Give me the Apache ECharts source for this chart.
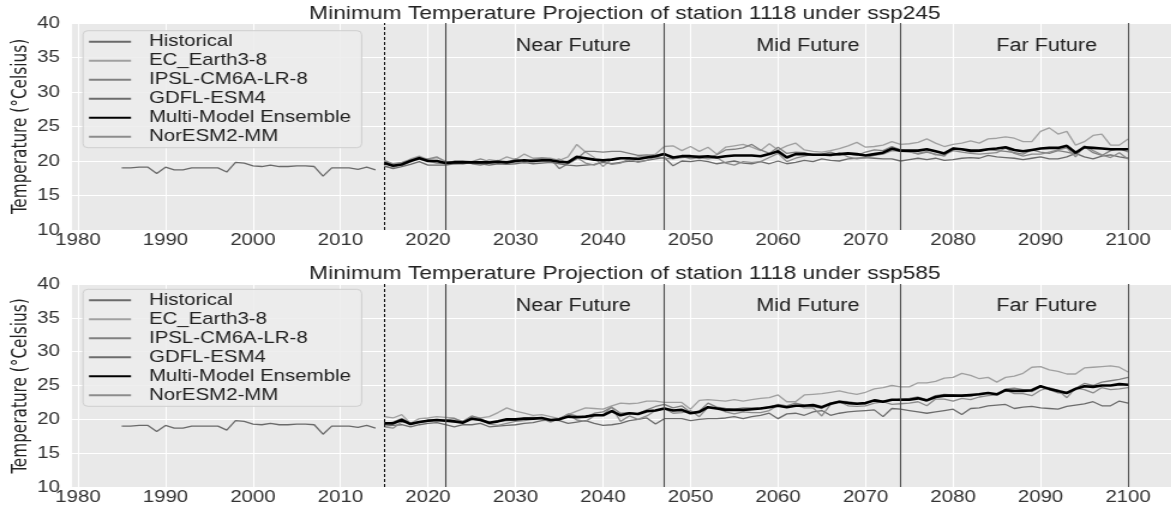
<!DOCTYPE html>
<html>
<head>
<meta charset="utf-8">
<script src="https://cdn.jsdelivr.net/npm/echarts@6.0.0/dist/echarts.min.js"></script>
<style>
  html, body { margin: 0; padding: 0; background: #fff; overflow: hidden; width: 1171px; height: 506px; }
  /* the figure is drawn narrower and widened horizontally */
  #chart { width: 982px; height: 506px; transform: scaleX(1.2); transform-origin: 0 0; }
</style>
</head>
<body>
<div id="chart"></div>
<script>
// ---- data ----
const histStart = 1985;
const projStart = 2015;

const historical = [
  19.0, 19.0, 19.1, 19.1, 18.2, 19.1, 18.7, 18.7, 19.0, 19.0,
  19.0, 19.0, 18.4, 19.8, 19.7, 19.3, 19.2, 19.4, 19.2, 19.2,
  19.3, 19.3, 19.2, 17.8, 19.0, 19.0, 19.0, 18.8, 19.1, 18.7
];

// ssp245, 2015-2100
const ec245 = [
  19.2, 19.0, 19.6, 20.3, 20.7, 20.2, 20.5, 20.0, 19.6, 19.5,
  19.9, 19.7, 20.2, 20.0, 20.6, 20.2, 21.0, 20.4, 20.5, 20.4,
  20.1, 20.6, 22.4, 21.3, 20.5, 19.2, 20.3, 20.5, 20.2, 20.6,
  20.7, 21.0, 22.1, 22.2, 21.5, 22.1, 21.4, 22.0, 21.0, 22.0,
  22.2, 22.4, 22.0, 21.5, 22.5, 21.6, 22.2, 22.6, 21.6, 21.4,
  21.3, 21.5, 21.8, 22.2, 22.7, 22.0, 22.1, 22.3, 22.8, 22.4,
  22.5, 22.7, 23.2, 22.6, 22.1, 22.4, 22.6, 22.9, 22.6, 23.2,
  23.3, 23.5, 23.3, 22.8, 22.8, 24.3, 24.8, 23.9, 24.3, 22.3,
  22.8, 23.7, 23.9, 22.3, 22.3, 23.2
];
const ipsl245 = [
  19.9, 19.6, 19.5, 20.1, 20.6, 20.0, 19.7, 19.6, 20.0, 20.0,
  19.6, 19.4, 19.7, 19.8, 19.7, 20.3, 19.9, 20.2, 20.4, 20.3,
  18.9, 19.6, 20.3, 21.4, 21.4, 21.3, 21.4, 21.4, 21.1, 20.8,
  20.9, 20.8, 21.1, 20.3, 20.5, 20.6, 20.4, 20.5, 20.9, 21.6,
  21.7, 21.9, 22.4, 21.6, 21.1, 22.0, 21.1, 21.3, 21.2, 20.9,
  21.0, 21.3, 20.9, 21.0, 20.8, 21.3, 21.6, 21.5, 22.1, 21.6,
  21.4, 21.0, 21.3, 21.0, 20.7, 21.9, 21.7, 21.3, 21.4, 21.7,
  21.5, 21.4, 21.2, 21.0, 21.6, 21.3, 21.1, 21.5, 21.3, 21.0,
  22.1, 21.2, 20.8, 21.5, 21.8, 21.3
];
const gdfl245 = [
  19.3, 18.9, 19.2, 19.5, 19.9, 19.4, 19.4, 19.4, 19.6, 19.7,
  19.8, 19.6, 19.4, 19.6, 19.5, 19.6, 19.8, 19.6, 19.7, 19.8,
  19.6, 19.4, 19.3, 19.4, 19.5, 19.8, 19.6, 19.8, 20.0, 19.9,
  20.1, 20.3, 20.5, 19.3, 20.0, 19.9, 20.1, 19.9, 19.6, 19.8,
  20.0, 19.7, 19.6, 19.9, 19.6, 20.0, 19.6, 19.8, 20.1, 19.9,
  20.3, 20.1, 20.0, 20.3, 20.4, 20.5, 20.4, 20.3, 20.3, 20.0,
  20.2, 20.4, 20.2, 20.4, 20.1, 20.2, 20.4, 20.5, 20.4, 20.8,
  20.6, 20.5, 20.4, 20.2, 20.4, 20.6, 20.3, 20.3, 20.6, 21.1,
  20.6, 20.3, 20.7, 20.9, 20.6, 20.4
];
const mme245 = [
  19.7, 19.3, 19.5, 20.0, 20.4, 20.0, 20.0, 19.7, 19.8, 19.8,
  19.8, 19.8, 19.8, 19.9, 19.8, 20.0, 20.1, 20.0, 20.1, 20.1,
  19.9, 19.8, 20.6, 20.4, 20.2, 20.1, 20.2, 20.4, 20.4, 20.3,
  20.5, 20.7, 21.0, 20.5, 20.7, 20.7, 20.6, 20.7, 20.5, 20.7,
  20.8, 20.8, 20.8, 20.7, 21.0, 21.4, 20.5, 21.0, 21.0, 20.9,
  20.9, 20.9, 21.0, 21.1, 21.0, 20.8, 21.0, 21.2, 21.8, 21.5,
  21.5, 21.5, 21.7, 21.4, 21.1, 21.8, 21.7, 21.5, 21.5, 21.7,
  21.8, 22.0, 21.6, 21.4, 21.6, 21.8, 21.9, 21.9, 22.2, 21.2,
  22.0, 21.9, 21.8, 21.7, 21.7, 21.7
];
const nor245 = [
  20.1, 19.6, 19.8, 20.2, 20.4, 20.3, 20.6, 19.9, 19.9, 20.0,
  19.9, 20.3, 19.9, 20.1, 19.6, 19.9, 19.7, 19.9, 19.9, 19.9,
  20.3, 19.6, 20.5, 19.7, 19.4, 20.0, 19.5, 19.7, 20.3, 19.8,
  20.1, 20.6, 20.4, 20.3, 20.7, 20.3, 20.5, 20.3, 20.5, 19.7,
  19.4, 19.9, 19.8, 19.9, 20.5, 21.1, 19.9, 20.4, 20.7, 21.0,
  20.9, 20.7, 21.2, 20.6, 20.3, 20.5, 20.8, 21.0, 21.5, 21.4,
  21.3, 21.1, 21.4, 20.9, 20.9, 21.5, 21.3, 21.1, 21.0, 21.1,
  21.2, 21.9, 21.1, 20.7, 21.0, 21.0, 21.3, 21.6, 21.9, 20.6,
  22.2, 21.5, 20.9, 20.5, 21.2, 20.3
];

// ssp585, 2015-2100
const ec585 = [
  20.4, 20.2, 20.7, 19.4, 20.1, 20.2, 20.4, 20.3, 20.2, 19.4,
  20.4, 20.2, 20.4, 21.0, 21.7, 21.2, 20.9, 20.6, 20.7, 20.4,
  20.1, 20.7, 21.2, 21.7, 21.6, 21.5, 22.0, 22.4, 22.3, 22.4,
  22.7, 22.7, 22.5, 22.5, 22.5, 21.5, 22.8, 22.9, 22.8, 22.7,
  22.9, 22.7, 22.9, 23.1, 23.2, 23.6, 22.6, 22.6, 23.6, 23.7,
  23.8, 24.0, 24.2, 23.9, 23.7, 24.0, 24.5, 24.7, 25.0, 24.8,
  24.8, 25.4, 25.4, 25.6, 26.1, 26.2, 26.8, 26.5, 26.0, 26.2,
  25.5, 26.2, 26.4, 26.8, 27.7, 27.8, 27.3, 27.1, 26.7, 26.7,
  27.6, 27.7, 27.8, 27.9, 27.7, 27.0
];
const ipsl585 = [
  19.3, 19.6, 20.1, 19.4, 19.6, 19.9, 19.9, 19.9, 20.1, 19.7,
  20.5, 20.1, 19.4, 19.7, 19.8, 19.9, 20.2, 20.3, 20.2, 19.7,
  20.0, 20.8, 20.5, 20.3, 20.9, 21.1, 21.8, 20.9, 21.0, 20.8,
  21.4, 21.9, 22.2, 21.7, 22.0, 21.0, 21.2, 22.4, 21.8, 21.6,
  21.5, 21.7, 21.7, 21.7, 21.8, 22.2, 22.0, 22.4, 22.1, 21.9,
  21.6, 22.4, 22.7, 22.6, 22.4, 22.3, 22.9, 22.7, 22.8, 23.0,
  23.1, 23.3, 22.9, 23.5, 23.7, 23.6, 23.4, 23.4, 23.8, 23.9,
  23.6, 24.5, 24.6, 24.4, 24.1, 24.8, 24.4, 23.9, 23.8, 24.6,
  25.3, 25.0, 25.5, 25.7, 25.9, 26.2
];
const gdfl585 = [
  19.0, 19.1, 19.2, 18.9, 19.2, 19.4, 19.5, 19.2, 18.9, 19.2,
  19.2, 19.4, 18.9, 19.0, 19.1, 19.2, 19.4, 19.5, 19.8, 19.9,
  19.8, 19.4, 19.6, 19.8, 19.4, 19.1, 19.2, 19.4, 19.8, 20.0,
  20.2, 19.3, 20.1, 20.1, 20.1, 19.8, 20.0, 20.1, 20.1, 20.2,
  20.4, 20.1, 20.4, 20.6, 20.9, 20.1, 20.8, 20.9, 20.6, 21.1,
  21.3, 20.6, 20.9, 21.1, 21.2, 21.3, 21.4, 20.4, 21.6, 21.5,
  21.3, 21.1, 20.9, 21.1, 21.3, 21.5, 20.7, 21.6, 21.7, 22.0,
  22.1, 22.2, 21.6, 21.8, 21.9, 21.7, 21.6, 21.5, 21.9, 22.1,
  22.3, 22.6, 22.0, 22.0, 22.7, 22.4
];
const mme585 = [
  19.4, 19.4, 19.9, 19.3, 19.6, 19.8, 19.9, 19.8, 19.7, 19.5,
  20.1, 19.9, 19.5, 19.7, 20.0, 20.0, 20.1, 20.1, 20.2, 19.9,
  20.0, 20.4, 20.3, 20.4, 20.6, 20.6, 21.2, 20.6, 20.9, 20.8,
  21.2, 21.3, 21.6, 21.3, 21.4, 20.9, 21.1, 21.8, 21.6, 21.4,
  21.4, 21.4, 21.5, 21.6, 21.8, 22.0, 21.8, 22.0, 22.0, 22.1,
  21.8, 22.3, 22.6, 22.4, 22.3, 22.4, 22.8, 22.6, 22.9, 22.9,
  22.9, 23.1, 22.8, 23.3, 23.5, 23.5, 23.5, 23.6, 23.7, 23.9,
  23.7, 24.3, 24.2, 24.2, 24.3, 24.9, 24.5, 24.2, 23.9, 24.5,
  24.9, 24.8, 25.0, 25.0, 25.2, 25.1
];
const nor585 = [
  18.9, 18.7, 19.6, 19.5, 19.5, 19.7, 19.8, 19.8, 19.6, 19.7,
  20.3, 19.9, 19.3, 19.1, 19.4, 19.7, 19.8, 20.0, 20.1, 19.6,
  20.1, 20.7, 19.9, 19.7, 20.5, 20.7, 21.8, 19.7, 20.5, 20.0,
  20.5, 21.3, 21.6, 20.9, 21.0, 21.3, 20.4, 21.8, 21.7, 21.1,
  20.8, 21.1, 21.0, 21.0, 21.3, 22.1, 21.8, 22.1, 21.7, 21.7,
  20.5, 22.2, 22.6, 22.0, 21.9, 22.0, 22.4, 22.6, 22.2, 22.3,
  22.4, 22.6, 22.0, 23.0, 23.0, 22.7, 23.1, 22.9, 23.3, 23.5,
  23.6, 24.3, 23.8, 23.8, 23.5, 24.3, 24.7, 24.3, 23.2, 24.6,
  24.4, 23.9, 24.7, 24.4, 24.5, 24.7
];

const periodBounds = [2022, 2047, 2074, 2100];
const periodNames = ['Near Future', 'Mid Future', 'Far Future'];
const periodLabelX = [2036.6, 2063.4, 2090.7];
const periodLabelY = 36.7;
const scenarios = ['ssp245', 'ssp585'];
const yTicks = [10, 15, 20, 25, 30, 35, 40];

// ---- styling ----
const FONT = 'Liberation Sans, Arial, Helvetica, sans-serif';
const NARROW = 'Liberation Sans Narrow, DejaVu Sans Condensed, Arial Narrow, sans-serif';
const names = ['Historical', 'EC_Earth3-8', 'IPSL-CM6A-LR-8', 'GDFL-ESM4', 'Multi-Model Ensemble', 'NorESM2-MM'];
const colors = {
  'Historical': '#6a6a6a',
  'EC_Earth3-8': '#a0a0a0',
  'IPSL-CM6A-LR-8': '#808080',
  'GDFL-ESM4': '#6c6c6c',
  'Multi-Model Ensemble': '#000000',
  'NorESM2-MM': '#8c8c8c'
};
const panels = [
  { top: 23, height: 207, legendTop: 30.7, titleTop: 4, ylabelY: 126.5,
    models: [ec245, ipsl245, gdfl245, mme245, nor245] },
  { top: 284, height: 204, legendTop: 289.3, titleTop: 264.5, ylabelY: 386,
    models: [ec585, ipsl585, gdfl585, mme585, nor585] }
];

function pairs(start, values) {
  return values.map((v, i) => [start + i, v]);
}

const grids = [], xAxes = [], yAxes = [], series = [], legends = [], titles = [], graphics = [];
const plotLeft = 59.5;
const plotCenter = (plotLeft + 982) / 2;

panels.forEach((p, k) => {
  grids.push({ left: plotLeft, right: 0, top: p.top, height: p.height, show: true,
               backgroundColor: '#e9e9e9', borderWidth: 0 });
  xAxes.push({
    type: 'value', gridIndex: k, min: 1979.25, max: 2105.75,
    minInterval: 10, maxInterval: 10,
    axisLine: { show: false }, axisTick: { show: false },
    splitLine: { show: true, lineStyle: { color: '#ffffff', width: 1.1 } },
    axisLabel: { color: '#333', fontSize: 17, fontFamily: FONT, margin: 2,
                 showMinLabel: false, showMaxLabel: false,
                 formatter: v => (Math.abs(v % 10) < 1e-6 ? String(v) : '') }
  });
  yAxes.push({
    type: 'value', gridIndex: k, min: yTicks[0], max: yTicks[yTicks.length - 1], interval: 5,
    axisLine: { show: false }, axisTick: { show: false },
    splitLine: { show: true, lineStyle: { color: '#ffffff', width: 1.1 } },
    axisLabel: { color: '#333', fontSize: 17, fontFamily: FONT, margin: 9.5 }
  });

  const lineData = [
    { name: 'Historical', data: pairs(histStart, historical), width: 1.3 },
    { name: 'EC_Earth3-8', data: pairs(projStart, p.models[0]), width: 1.3 },
    { name: 'IPSL-CM6A-LR-8', data: pairs(projStart, p.models[1]), width: 1.3 },
    { name: 'GDFL-ESM4', data: pairs(projStart, p.models[2]), width: 1.3 },
    { name: 'Multi-Model Ensemble', data: pairs(projStart, p.models[3]), width: 2.6 },
    { name: 'NorESM2-MM', data: pairs(projStart, p.models[4]), width: 1.3 }
  ];
  lineData.forEach(s => {
    const isMme = s.name === 'Multi-Model Ensemble';
    const item = {
      type: 'line', name: s.name, xAxisIndex: k, yAxisIndex: k,
      data: s.data, symbol: 'none', showSymbol: false, animation: false,
      z: isMme ? 4 : 3,
      lineStyle: { color: colors[s.name], width: s.width },
      itemStyle: { color: colors[s.name], opacity: 0 }
    };
    if (s.name === 'Historical') {
      item.markLine = {
        symbol: 'none', silent: true, animation: false, label: { show: false },
        data: [{ xAxis: projStart, lineStyle: { type: [3, 2], color: '#000', width: 1, opacity: 1 } }]
          .concat(periodBounds.map(b => ({ xAxis: b, lineStyle: { type: 'solid', color: '#4a4a4a', width: 1.1, opacity: 1 } })))
      };
      item.markPoint = {
        symbol: 'rect', symbolSize: 0, silent: true, animation: false,
        itemStyle: { opacity: 1 },
        label: { show: true, position: 'inside', formatter: '{b}', color: '#222', fontSize: 18, fontFamily: FONT },
        data: periodNames.map((n, i) => ({ name: n, coord: [periodLabelX[i], periodLabelY] }))
      };
    }
    series.push(item);
  });

  legends.push({
    orient: 'vertical', left: 69.2, top: p.legendTop,
    data: names, itemWidth: 35, itemHeight: 12, itemGap: 0,
    itemStyle: { opacity: 0 },
    backgroundColor: 'rgba(236,236,236,0.85)', borderColor: '#cfcfcf', borderWidth: 1, borderRadius: 4,
    padding: [1.5, 9, 1.5, 4],
    textStyle: { color: '#222', fontSize: 17, fontFamily: FONT, lineHeight: 19, padding: [0, 0, 0, 10] }
  });

  titles.push({
    text: 'Minimum Temperature Projection of station 1118 under ' + scenarios[k],
    left: plotCenter, top: p.titleTop, textAlign: 'center', padding: 0,
    textStyle: { color: '#222', fontSize: 19, fontWeight: 'normal', fontFamily: FONT }
  });

  graphics.push({
    type: 'text', x: 17.5, y: p.ylabelY, rotation: Math.PI / 2, silent: true,
    style: { text: 'Temperature (°Celsius)', fill: '#222', fontSize: 17, fontFamily: NARROW,
             align: 'center', verticalAlign: 'middle', textAlign: 'center', textVerticalAlign: 'middle' }
  });
});

const chart = echarts.init(document.getElementById('chart'), null, { renderer: 'canvas' });
chart.setOption({
  animation: false,
  backgroundColor: '#ffffff',
  title: titles,
  legend: legends,
  grid: grids,
  xAxis: xAxes,
  yAxis: yAxes,
  series: series,
  graphic: graphics
});
</script>
</body>
</html>
